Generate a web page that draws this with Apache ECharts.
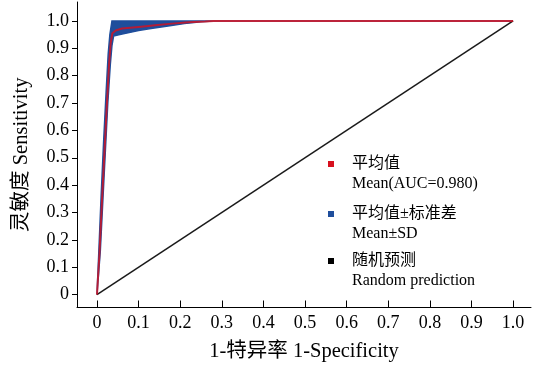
<!DOCTYPE html>
<html>
<head>
<meta charset="utf-8">
<script src="https://cdn.jsdelivr.net/npm/echarts@6/dist/echarts.min.js"></script>
<style>
html, body { margin: 0; padding: 0; background: #fff; }
#chart { width: 533px; height: 367px; }
</style>
</head>
<body>
<div id="chart"></div>
<script>
// 刻度
var tickValues = [0, 0.1, 0.2, 0.3, 0.4, 0.5, 0.6, 0.7, 0.8, 0.9, 1.0];

// 平均 ROC 曲线
var meanFpr = [0, 0.006, 0.012, 0.018, 0.024, 0.029, 0.033, 0.037, 0.045, 0.06, 0.1, 0.14, 0.18, 0.22, 0.26, 0.28, 1];
var meanTpr = [0, 0.15, 0.34, 0.52, 0.7, 0.84, 0.92, 0.955, 0.965, 0.972, 0.978, 0.984, 0.99, 0.995, 0.998, 1, 1];

// 平均值±标准差 上边界 / 下边界
var upperFpr = [0, 0.004, 0.01, 0.016, 0.022, 0.027, 0.031, 0.036, 0.28, 1];
var upperTpr = [0, 0.14, 0.36, 0.56, 0.74, 0.88, 0.95, 1, 1, 1];
var lowerFpr = [0, 0.008, 0.014, 0.02, 0.026, 0.032, 0.036, 0.04, 0.055, 0.08, 0.1, 0.13, 0.175, 0.21, 0.25, 0.28, 1];
var lowerTpr = [0, 0.16, 0.34, 0.52, 0.7, 0.84, 0.91, 0.945, 0.95, 0.958, 0.965, 0.972, 0.982, 0.99, 0.997, 1, 1];

// 随机预测
var randomFpr = [0, 1];
var randomTpr = [0, 1];

var names = ['平均值\nMean(AUC=0.980)', '平均值±标准差\nMean±SD', '随机预测\nRandom prediction'];

var font = '"Liberation Serif", "Times New Roman", "Noto Sans CJK SC", serif';

function pairs(xs, ys) {
  return xs.map(function (x, i) { return [x, ys[i]]; });
}

function makeLegend(name, color, top) {
  return {
    data: [{ name: name, itemStyle: { color: color } }],
    left: 328,
    top: top,
    padding: 0,
    icon: 'rect',
    itemWidth: 6,
    itemHeight: 6,
    selectedMode: false,
    // 空行放在前面，让图标和第一行文字对齐
    formatter: function (n) { return '\n' + n; },
    textStyle: {
      fontFamily: font,
      fontSize: 16,
      lineHeight: 20,
      color: '#000',
      padding: [0, 0, 0, 13]
    }
  };
}

var myChart = echarts.init(document.getElementById('chart'));

var option = {
  animation: false,
  grid: { left: 77, right: 2, top: 2, bottom: 58, containLabel: false },
  xAxis: {
    type: 'value',
    min: -0.048,
    max: 1.043,
    name: '1-特异率 1-Specificity',
    nameLocation: 'middle',
    nameGap: 34,
    nameTextStyle: { fontFamily: font, fontSize: 20.5, color: '#000' },
    axisLine: { onZero: false, lineStyle: { color: '#000', width: 1 } },
    axisTick: { inside: true, length: 7, customValues: tickValues, lineStyle: { color: '#000' } },
    axisLabel: {
      customValues: tickValues,
      margin: 7,
      fontFamily: font,
      fontSize: 18,
      color: '#000',
      formatter: function (v) { return v === 0 ? '0' : v.toFixed(1); }
    },
    splitLine: { show: false }
  },
  yAxis: {
    type: 'value',
    min: -0.047,
    max: 1.069,
    name: '灵敏度 Sensitivity',
    nameLocation: 'middle',
    nameGap: 45,
    nameTextStyle: { fontFamily: font, fontSize: 20.5, color: '#000' },
    axisLine: { show: true, onZero: false, lineStyle: { color: '#000', width: 1 } },
    axisTick: { show: true, inside: false, length: 5, customValues: tickValues, lineStyle: { color: '#000' } },
    axisLabel: {
      customValues: tickValues,
      margin: 8,
      fontFamily: font,
      fontSize: 18,
      color: '#000',
      formatter: function (v) { return v === 0 ? '0' : v.toFixed(1); }
    },
    splitLine: { show: false }
  },
  legend: [
    makeLegend(names[0], '#d7101e', 134),
    makeLegend(names[1], '#1f4e9c', 184),
    makeLegend(names[2], '#000000', 231)
  ],
  series: [
    {
      name: names[1],
      type: 'custom',
      coordinateSystem: 'cartesian2d',
      itemStyle: { color: '#1f4e9c' },
      data: [[0, 0]],
      z: 1,
      renderItem: function (params, api) {
        var pts = [];
        for (var i = 0; i < upperFpr.length; i++) {
          pts.push(api.coord([upperFpr[i], upperTpr[i]]));
        }
        for (var j = lowerFpr.length - 1; j >= 0; j--) {
          pts.push(api.coord([lowerFpr[j], lowerTpr[j]]));
        }
        return {
          type: 'polygon',
          shape: { points: pts },
          style: { fill: '#1f4e9c', stroke: '#1f4e9c', lineWidth: 1.5 }
        };
      }
    },
    {
      name: names[2],
      type: 'line',
      data: pairs(randomFpr, randomTpr),
      symbol: 'none',
      z: 2,
      itemStyle: { color: '#000' },
      lineStyle: { color: '#1a1a1a', width: 1.5 }
    },
    {
      name: names[0],
      type: 'line',
      data: pairs(meanFpr, meanTpr),
      symbol: 'none',
      z: 3,
      itemStyle: { color: '#d7101e' },
      lineStyle: { color: '#d7101e', width: 2, opacity: 0.8 }
    }
  ]
};

myChart.setOption(option);
</script>
</body>
</html>
